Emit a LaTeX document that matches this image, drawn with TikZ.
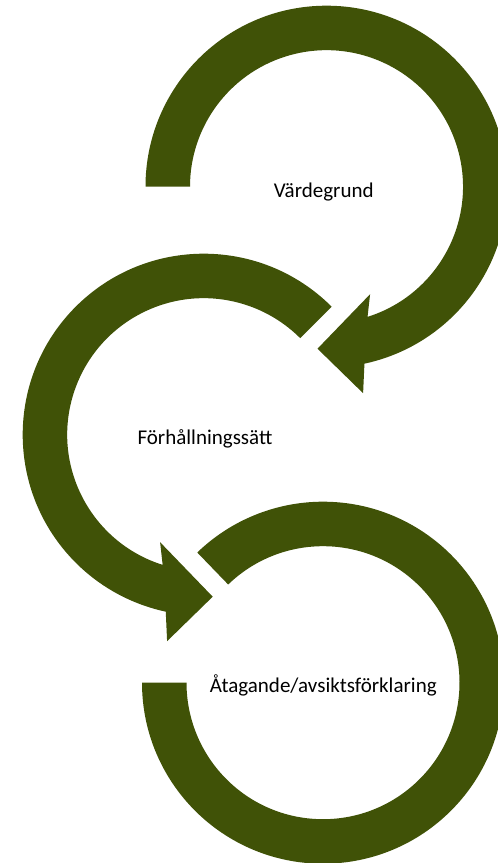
\documentclass[tikz,border=0pt]{standalone}
\usepackage{fontspec}
\setmainfont{Carlito}
\usepackage{tikz}
\definecolor{olivedark}{RGB}{64,82,7}
\tikzstyle{band} = [fill=olivedark, draw=none]
\tikzstyle{steptext} = [font=\fontsize{21}{25}\selectfont, text=black, inner sep=0pt, anchor=base]

\begin{document}
\begin{tikzpicture}[x=1pt, y=1pt]
\useasboundingbox (0,0) rectangle (498,863);
\clip (0,0) rectangle (498,863);

% top ring, clockwise, tail at the left
\begin{scope}[shift={(326.5,676.3)}]
\fill[band] (180:181) arc[start angle=180, end angle=-77.9, radius=181]
    -- (36.6,-206.5) -- (-9,-162) -- (43.6,-107.5)
    -- (-72.5:136.5) arc[start angle=-72.5, end angle=180, radius=136.5] -- cycle;
\end{scope}

% middle ring, mirrored
\begin{scope}[shift={(203.7,428.3)}, xscale=-1]
\fill[band] (135:181) arc[start angle=135, end angle=-77.9, radius=181]
    -- (36.6,-206.5) -- (-9,-162) -- (43.6,-107.5)
    -- (-72.5:136.5) arc[start angle=-72.5, end angle=135, radius=136.5] -- cycle;
\end{scope}

% bottom ring, no arrowhead
\begin{scope}[shift={(323,180.3)}]
\fill[band] (180:181) arc[start angle=-180, end angle=134, radius=181]
    -- (134:136.5) arc[start angle=134, end angle=-180, radius=136.5] -- cycle;
\end{scope}

\node[steptext] (vardegrund) at (323.8,665.7) {Värdegrund};
\node[steptext] (forhallning) at (205,418.7) {Förhållningssätt};
\node[steptext] (atagande) at (323.3,170.3) {Åtagande/avsiktsförklaring};
\end{tikzpicture}
\end{document}
